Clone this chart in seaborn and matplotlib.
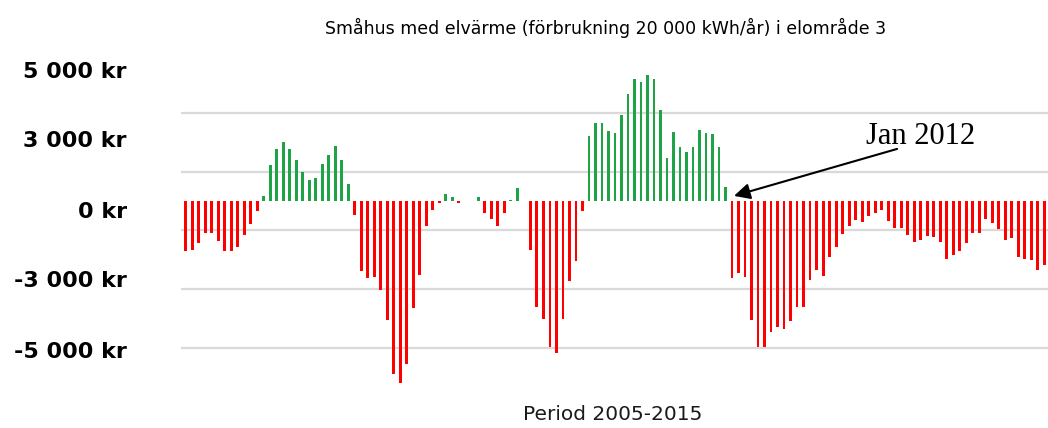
import pandas as pd
import numpy as np
import seaborn as sns
import matplotlib.pyplot as plt

# Monthly difference (kr) between fixed and variable price
months = pd.date_range('2005-01', periods=133, freq='MS')
diff_2005_2006 = [-1.70, -1.65, -1.42, -1.08, -1.08, -1.35, -1.70, -1.69, -1.56, -1.16, -0.78, -0.33,
                  0.17, 1.23, 1.78, 2.01, 1.78, 1.40, 1.00, 0.72, 0.77, 1.26, 1.58, 1.86, 1.41, 0.58]
diff_2007_2008 = [-0.48, -2.37, -2.63, -2.60, -3.01, -4.05, -5.87, -6.19, -5.55, -3.65, -2.52, -0.84,
                  -0.31, -0.06, 0.24, 0.15, -0.08, 0.0, 0.0, 0.15, -0.39, -0.62, -0.84, -0.42,
                  0.03, 0.44, 0.0]
diff_2009_2011 = [-1.65, -3.60, -4.00, -4.96, -5.16, -4.00, -2.71, -2.04, -0.33,
                  2.21, 2.64, 2.67, 2.38, 2.30, 2.93, 3.65, 4.17, 4.04, 4.28, 4.17, 3.09,
                  1.48, 2.35, 1.85, 1.67, 1.83, 2.42, 2.33, 2.29, 1.85, 0.49]
diff_2012_2016 = [-2.63, -2.44, -2.60, -4.05, -4.98, -4.98, -4.46, -4.28, -4.37, -4.09, -3.60, -3.60,
                  -2.69, -2.35, -2.55, -1.90, -1.56, -1.12, -0.84, -0.65, -0.70, -0.50, -0.42, -0.31,
                  -0.68, -0.91, -0.93, -1.16, -1.38, -1.31, -1.19, -1.21, -1.39, -1.96, -1.85, -1.71,
                  -1.42, -1.10, -1.10, -0.62, -0.76, -0.94, -1.31, -1.27, -1.90, -1.98, -2.02, -2.35,
                  -2.18]
values = np.array(diff_2005_2006 + diff_2007_2008 + diff_2009_2011 + diff_2012_2016) * 1000

grid_values = [3000, 1000, -1000, -3000, -5000]
# the kr labels in the reference sit on their own evenly spaced scale, not on the grid
label_positions = [4460, 2110, -310, -2660, -5070]
label_texts = ['5 000 kr', '3 000 kr', '0 kr', '-3 000 kr', '-5 000 kr']

df = pd.DataFrame({'month': months.strftime('%Y-%m'), 'diff': values})
df['sign'] = np.where(df['diff'] >= 0, 'pos', 'neg')

sns.set_style('white')
fig = plt.figure(figsize=(10.48, 4.28), dpi=100)
ax = fig.add_axes([0.1727, 0.0771, 0.8273, 0.8294])

sns.barplot(data=df, x='month', y='diff', hue='sign',
            palette={'pos': '#1fa347', 'neg': '#ff0000'}, saturation=1,
            width=0.45, dodge=False, linewidth=0, legend=False, ax=ax)

ax.set_xlim(-0.75, 132.6)
ax.set_ylim(-6600, 5480)

# grid on minor ticks, kr labels on major ticks
ax.set_yticks(grid_values, minor=True)
ax.grid(which='minor', axis='y', color='#d9d9d9', lw=1.6)
ax.set_axisbelow(True)
ax.set_yticks(label_positions, labels=label_texts)
ax.tick_params(axis='y', which='both', length=0, pad=39, labelsize=16, labelcolor='black')
for t in ax.get_yticklabels():
    t.set_fontweight('bold')
ax.set_xticks([])
sns.despine(ax=ax, left=True, bottom=True)

ax.set_ylabel('')
ax.set_xlabel('Period 2005-2015', fontsize=14.5, color='#1a1a1a')
ax.xaxis.set_label_coords(0.498, -0.056)
ax.xaxis.label.set_va('center')

fig.text(0.578, 0.935, 'Småhus med elvärme (förbrukning 20 000 kWh/år) i elområde 3',
         ha='center', va='center', fontsize=12.5, color='black')

# arrow pointing at January 2012
jan12 = list(df['month']).index('2012-01')
ax.annotate('', xy=(jan12 - 0.1, 150), xytext=(109.8, 1800),
            arrowprops=dict(arrowstyle='-|>', color='black', lw=1.5, mutation_scale=24))
ax.text(104.6, 2200, 'Jan 2012', ha='left', va='center',
        family='Liberation Serif', fontsize=22, color='black')

fig.savefig('out.png', dpi=100)
